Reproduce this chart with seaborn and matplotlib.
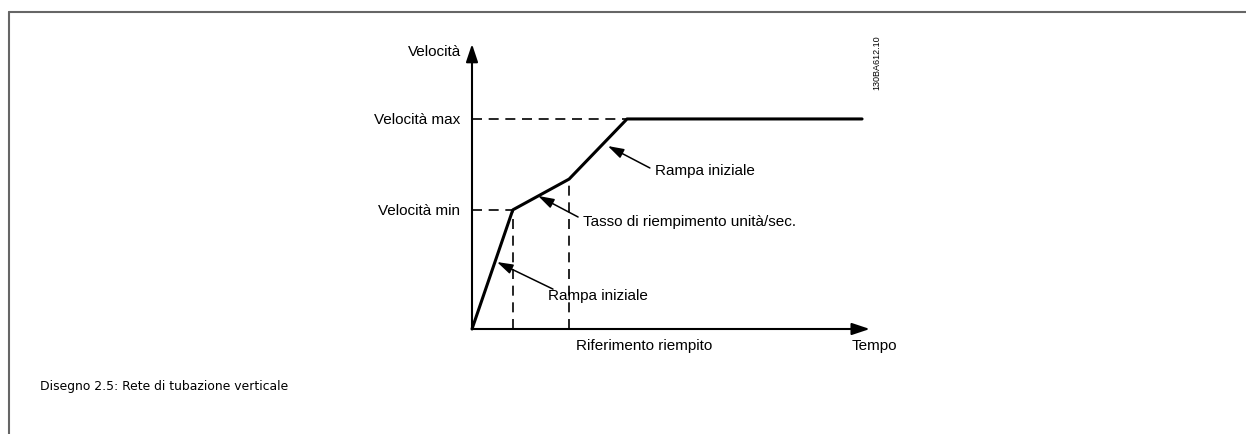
import numpy as np
import pandas as pd
import seaborn as sns
import matplotlib.pyplot as plt
from matplotlib.lines import Line2D

sns.set_theme(style='white')
plt.rcParams['font.family'] = ['Liberation Sans', 'DejaVu Sans']
plt.rcParams['text.color'] = 'black'

# Speed profile (time in arbitrary units, speed in % of axis)
t_points = [0.0, 1.0, 2.38, 3.8, 9.56]
v_points = [0.0, 41.8, 52.6, 73.7, 73.7]
v_min = 41.8
v_max = 73.7
t_fill_start = 1.0
t_fill_end = 2.38

y_labels = ['Velocità max', 'Velocità min']
label_rampa = 'Rampa iniziale'
label_tasso = 'Tasso di riempimento unità/sec.'
label_rif = 'Riferimento riempito'
caption = 'Disegno 2.5: Rete di tubazione verticale'

W, H = 1246, 435
fig = plt.figure(figsize=(W / 100, H / 100), dpi=100)

# axes placed so the origin sits at (472, 330) px
ax = fig.add_axes([472 / W, 1 - 330 / H, (880 - 472) / W, (330 - 45) / H])
ax.set_xlim(0, 10)
ax.set_ylim(0, 100)
ax.patch.set_alpha(0)
for s in ax.spines.values():
    s.set_visible(False)
ax.set_xticks([])
ax.set_yticks([])

# axes with arrow heads
arrow_ax = dict(arrowstyle='-|>,head_length=0.9,head_width=0.3', color='black', lw=1.5,
                shrinkA=0, shrinkB=0)
ax.annotate('', xy=(9.75, 0), xytext=(0, 0), arrowprops=arrow_ax, annotation_clip=False)
ax.annotate('', xy=(0, 100), xytext=(0, 0), arrowprops=arrow_ax, annotation_clip=False)

# dashed guides
dash = dict(color='black', lw=1.2, ls=(0, (6, 4)))
ax.plot([0, t_points[3]], [v_max, v_max], **dash)
ax.plot([0, t_fill_start], [v_min, v_min], **dash)
ax.plot([t_fill_start, t_fill_start], [0, v_min], **dash)
ax.plot([t_fill_end, t_fill_end], [0, v_points[2]], **dash)

# speed curve
df = pd.DataFrame({'t': t_points, 'v': v_points})
sns.lineplot(data=df, x='t', y='v', ax=ax, color='black', lw=2.2, sort=False,
             estimator=None, clip_on=False)
ax.set_xlabel('')
ax.set_ylabel('')

fs = 11
ax.text(-0.27, 97.5, 'Velocità', ha='right', va='center', fontsize=fs)
ax.text(-0.3, v_max, y_labels[0], ha='right', va='center', fontsize=fs)
ax.text(-0.3, v_min, y_labels[1], ha='right', va='center', fontsize=fs)
ax.text(4.22, -5.6, label_rif, ha='center', va='center', fontsize=fs)
ax.text(9.31, -5.6, 'Tempo', ha='left', va='center', fontsize=fs)

arr = dict(arrowstyle='-|>,head_length=0.8,head_width=0.25', color='black', lw=1.1,
           shrinkA=0, shrinkB=0)
ax.annotate('', xy=(0.613, 23.5), xytext=(1.985, 14.0), arrowprops=arr)
ax.text(1.86, 11.9, label_rampa, ha='left', va='center', fontsize=fs)
ax.annotate('', xy=(1.62, 46.7), xytext=(2.6, 39.3), arrowprops=arr)
ax.text(2.72, 37.9, label_tasso, ha='left', va='center', fontsize=fs)
ax.annotate('', xy=(3.33, 64.2), xytext=(4.36, 56.5), arrowprops=arr)
ax.text(4.49, 55.8, label_rampa, ha='left', va='center', fontsize=fs)

fig.text(877 / W, 1 - 63 / H, '130BA612.10', rotation=90, ha='center', va='center',
         fontsize=6.5)

fig.text(40 / W, 1 - 387 / H, caption, ha='left', va='center', fontsize=8.9,
         family=['DejaVu Sans'])

# page frame
fig.add_artist(Line2D([9 / W, 1], [1 - 13 / H, 1 - 13 / H], color='#666666', lw=1.5))
fig.add_artist(Line2D([9 / W, 9 / W], [1 - 13 / H, 0], color='#666666', lw=1.5))

fig.savefig('out.png', dpi=100, facecolor='white')
